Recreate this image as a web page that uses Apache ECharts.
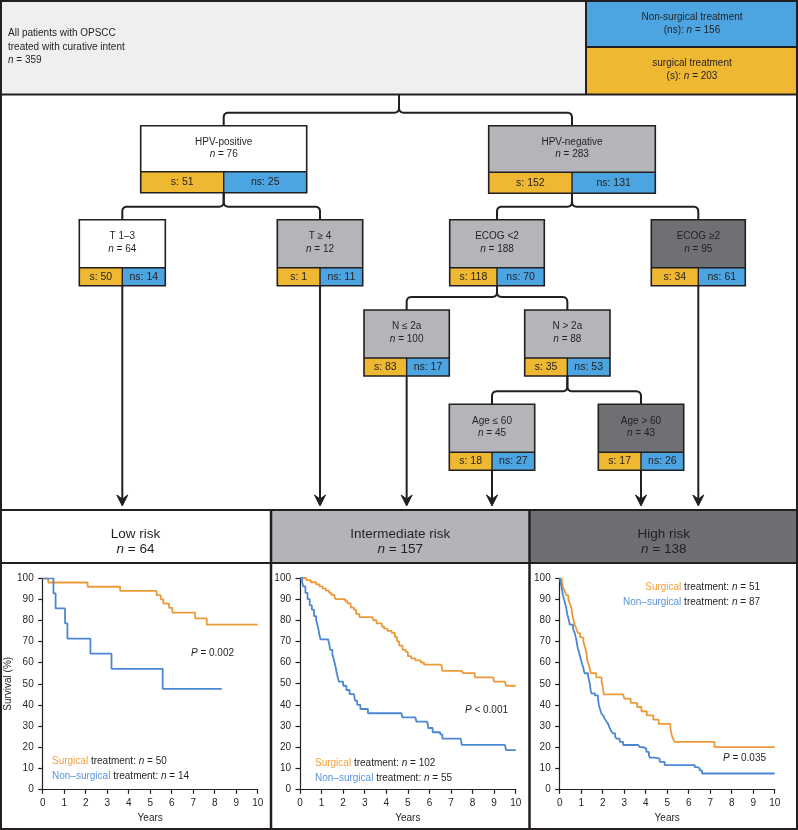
<!DOCTYPE html>
<html><head><meta charset="utf-8">
<script src="https://cdn.jsdelivr.net/npm/echarts@6/dist/echarts.min.js"></script>
<style>html,body{margin:0;padding:0;background:#fff}#c{width:798px;height:830px}</style>
</head><body><div id="c"></div>
<script>
// ---------------- DATA ----------------
const totalN = 359, totalNS = 156, totalS = 203;
const headerLines = ['All patients with OPSCC', 'treated with curative intent'];
const nodeIds    = ['hpvp','hpvn','t13','t4','ecogLow','ecogHigh','nLow','nHigh','ageLow','ageHigh'];
const nodeLabels = ['HPV-positive','HPV-negative','T 1–3','T ≥ 4','ECOG <2','ECOG ≥2','N ≤ 2a','N > 2a','Age ≤ 60','Age > 60'];
const nodeN      = [76, 283, 64, 12, 188, 95, 100, 88, 45, 43];
const nodeS      = [51, 152, 50, 1, 118, 34, 83, 35, 18, 17];
const nodeNS     = [25, 131, 14, 11, 70, 61, 17, 53, 27, 26];
const nodeTone   = ['white','gray','white','gray','gray','dark','gray','gray','gray','dark'];
const branches   = [['root',['hpvp','hpvn']],['hpvp',['t13','t4']],['hpvn',['ecogLow','ecogHigh']],['ecogLow',['nLow','nHigh']],['nHigh',['ageLow','ageHigh']]];
const leaves     = ['t13','t4','nLow','ageLow','ageHigh','ecogHigh'];

const riskNames  = ['Low risk','Intermediate risk','High risk'];
const riskN      = [64, 157, 138];
const surgN      = [50, 102, 51];
const nonSurgN   = [14, 55, 87];
const pTexts     = ['= 0.002', '< 0.001', '= 0.035'];
const yearTicks  = [0,1,2,3,4,5,6,7,8,9,10];

const lowSurgical = [[0,100],[0.26,98],[2.09,96],[3.6,94],[5.3,92],[5.49,90],[5.61,88],[5.88,86],[6.03,83.7],[7.09,81],[7.63,78],[10,78]];
const lowNonSurgical = [[0,100],[0.5,92.9],[0.6,85.7],[1.04,78.6],[1.15,71.4],[2.22,64.3],[3.2,57.1],[5.58,47.6],[8.33,47.6]];
const intSurgical = [[0,100],[0.3,99],[0.5,98],[0.75,97],[0.9,96],[1.05,95],[1.2,94],[1.35,93],[1.45,92],[1.6,91],[1.65,90],[2.0,90],[2.1,89],[2.2,88],[2.35,86],[2.5,85],[2.6,83],[2.75,81.5],[3.35,81.5],[3.4,80],[3.55,78.5],[3.8,77],[3.9,76],[4.05,75],[4.25,74],[4.4,72],[4.5,70],[4.6,68],[4.75,66],[4.9,65],[5.0,63],[5.15,62],[5.35,61],[5.6,60],[5.75,59],[6.55,59],[6.6,56],[7.5,56],[7.55,55],[8.0,55],[8.1,53],[8.95,53],[9.0,51],[9.5,51],[9.55,49],[10,49]];
const intNonSurgical = [[0,100],[0.1,98],[0.15,96],[0.25,93],[0.35,90],[0.45,87],[0.55,85],[0.65,82],[0.75,80],[0.8,78],[0.85,76],[0.9,73],[0.95,71],[1.3,71],[1.35,69],[1.4,66],[1.5,64],[1.55,62],[1.6,60],[1.65,58],[1.7,55],[1.75,53],[1.8,51],[2.0,49],[2.15,47],[2.3,45],[2.5,45],[2.55,42],[2.65,40],[2.8,38],[3.15,36],[4.7,36],[4.75,34],[5.35,34],[5.4,32],[5.9,32],[5.95,29],[6.15,27],[6.5,26],[6.6,24],[7.45,24],[7.5,21],[9.5,21],[9.55,18.5],[10,18.5]];
const highSurgical = [[0,100],[0.1,98],[0.15,96],[0.23,94],[0.3,92],[0.4,90],[0.47,88],[0.54,86],[0.6,82],[0.65,80],[0.7,78],[0.78,76],[0.85,74],[0.95,72],[1.1,70],[1.16,68],[1.24,65],[1.28,61],[1.35,59],[1.4,57],[1.45,55],[1.7,53],[1.95,51],[2.0,49],[2.05,45],[2.95,45],[3.0,43],[3.3,41],[3.6,39],[3.8,37],[4.05,35],[4.35,33],[4.6,31],[5.15,29],[5.2,26],[5.27,24],[5.35,22.5],[7.2,20],[10,20]];
const highNonSurgical = [[0,100],[0.05,98],[0.08,96],[0.12,94],[0.15,92],[0.2,90],[0.23,89],[0.28,87],[0.31,85.5],[0.35,83],[0.39,81.5],[0.43,80],[0.47,78],[0.62,76],[0.7,74],[0.75,72],[0.78,70.5],[0.82,68],[0.85,66.5],[0.9,65],[0.93,63.5],[1.0,61],[1.05,59],[1.09,58],[1.13,56],[1.16,55],[1.32,53.5],[1.36,52],[1.4,50],[1.44,47],[1.47,45.5],[1.63,44.5],[1.78,43],[1.82,40],[1.86,38.5],[1.94,36],[2.02,35],[2.09,33.5],[2.18,32],[2.25,31],[2.33,29],[2.4,27.5],[2.48,26.5],[2.58,25],[2.64,24],[2.79,22.5],[2.95,21],[3.65,21],[3.72,20],[3.88,19.3],[4.03,17.7],[4.15,16],[4.2,15],[4.42,14.5],[4.65,13],[4.88,11.5],[6.12,11.5],[6.28,10.5],[6.4,10],[6.51,9],[6.62,7.5],[10,7.5]];
const surgicalCurves = [lowSurgical, intSurgical, highSurgical];
const nonSurgicalCurves = [lowNonSurgical, intNonSurgical, highNonSurgical];

// ---------------- LAYOUT / STYLE ----------------
const FONT = '"Liberation Sans", Arial, Helvetica, sans-serif';
const INK = '#231f20';
const C = { white:'#ffffff', gray:'#b4b5b8', dark:'#6f7073', light:'#efeff0', yellow:'#efb833', blue:'#4ca5e0', orange:'#ec9a38', curveBlue:'#4b87d2', orangeText:'#f0a03c', blueText:'#5a94dc' };
const boxLayout = {
  hpvp:[140.7,125.7,166,67,21], hpvn:[488.7,125.7,166.6,67.5,21],
  t13:[79.3,219.7,86,66,18], t4:[277.3,219.7,85.4,66,18],
  ecogLow:[449.7,219.7,94.6,66,18], ecogHigh:[651.3,219.7,94,66,18],
  nLow:[364,310,85.3,66,18], nHigh:[524.7,310,85.3,66,18],
  ageLow:[449.3,404.3,85.4,66,18], ageHigh:[598.3,404.3,85.4,66,18]
};
const headerH = 94.5, rootX = 399, arrowEndY = 506;
const panelX = [0, 271, 529.5, 798];
const panelTop = 510, panelHeadBottom = 563, bottomY = 829;
const grids = [
  {left:42.7, top:578.3, width:215, height:211},
  {left:300, top:578, width:215.7, height:211.3},
  {left:559.7, top:578.3, width:215, height:211}
];
const legendPos = [{x:52, y:761, align:'left'},{x:315, y:763, align:'left'},{x:760, y:587, align:'right'}];
const pPos = [{x:212.5, y:653},{x:486.5, y:710},{x:744.5, y:758}];

// ---------------- BUILD ----------------
const g = [];
function txt(x, y, text, opts) {
  opts = opts || {};
  const fs = opts.fontSize || 10;
  g.push({type:'text', x:x, y:y, z:20, silent:true, style:Object.assign({
    text:text, fill:INK, fontSize:fs, fontFamily:FONT, align:'center', verticalAlign:'middle',
    rich:{ it:{fontStyle:'italic', fontSize:fs, fontFamily:FONT, fill:INK},
           nr:{fontSize:fs, fontFamily:FONT, fill:INK},
           o:{fontSize:fs, fontFamily:FONT, fill:C.orangeText},
           b:{fontSize:fs, fontFamily:FONT, fill:C.blueText} }
  }, opts)});
}
function rect(x, y, w, h, fill, stroke, lw, z) {
  g.push({type:'rect', z:z||5, silent:true, shape:{x:x, y:y, width:w, height:h},
    style:{fill:fill||'none', stroke:stroke||null, lineWidth:lw||0}});
}
function line(x1, y1, x2, y2, lw, z) {
  g.push({type:'line', z:z||12, silent:true, shape:{x1:x1, y1:y1, x2:x2, y2:y2}, style:{stroke:INK, lineWidth:lw||2}});
}
function quad(pts, p0, p1, p2) {
  for (let k = 1; k <= 6; k++) {
    const t = k / 6, u = 1 - t;
    pts.push([u*u*p0[0] + 2*u*t*p1[0] + t*t*p2[0], u*u*p0[1] + 2*u*t*p1[1] + t*t*p2[1]]);
  }
}

// header
rect(0, 0, 586, headerH, C.light);
rect(586, 0, 212, 47, C.blue);
rect(586, 47, 212, headerH - 47, C.yellow);
rect(1, 1, 796, headerH - 1, null, INK, 2, 12);
line(586, 0, 586, headerH);
line(586, 47, 798, 47);
txt(8, 33.5, headerLines[0], {align:'left'});
txt(8, 47, headerLines[1], {align:'left'});
txt(8, 60.5, '{it|n}{nr| = ' + totalN + '}', {align:'left'});
txt(692, 17, 'Non-surgical treatment');
txt(692, 30, '{nr|(ns): }{it|n}{nr| = ' + totalNS + '}');
txt(692, 63, 'surgical treatment');
txt(692, 76, '{nr|(s): }{it|n}{nr| = ' + totalS + '}');

// tree side borders
line(1, headerH, 1, panelTop);
line(797, headerH, 797, panelTop);

// tree nodes
const toneFill = {white:C.white, gray:C.gray, dark:C.dark};
nodeIds.forEach(function(id, i) {
  const b = boxLayout[id];
  const x = b[0], y = b[1], w = b[2], h = b[3], sh = b[4];
  rect(x, y, w, h - sh, toneFill[nodeTone[i]]);
  rect(x, y + h - sh, w / 2, sh, C.yellow);
  rect(x + w / 2, y + h - sh, w / 2, sh, C.blue);
  rect(x, y, w, h, null, INK, 1.6, 13);
  line(x, y + h - sh, x + w, y + h - sh, 1.4, 13);
  line(x + w / 2, y + h - sh, x + w / 2, y + h, 1.4, 13);
  const big = w > 120;
  txt(x + w / 2, y + (big ? 17 : 16.7), nodeLabels[i]);
  txt(x + w / 2, y + (big ? 29 : 29.3), '{it|n}{nr| = ' + nodeN[i] + '}');
  txt(x + w / 4, y + h - sh / 2, 's: ' + nodeS[i], {fontSize:10.5});
  txt(x + 3 * w / 4, y + h - sh / 2, 'ns: ' + nodeNS[i], {fontSize:10.5});
});

// braces
function anchorBottom(id) {
  if (id === 'root') return [rootX, headerH];
  const b = boxLayout[id];
  return [b[0] + b[2] / 2, b[1] + b[3]];
}
branches.forEach(function(br) {
  const p = anchorBottom(br[0]);
  const cx = p[0], py = p[1];
  const r = 5;
  br[1].forEach(function(cid) {
    const b = boxLayout[cid];
    const x = b[0] + b[2] / 2, top = b[1];
    const by = top - 13;
    const dir = x < cx ? 1 : -1;
    const pts = [[x, top], [x, by + r]];
    quad(pts, [x, by + r], [x, by], [x + dir * r, by]);
    pts.push([cx - dir * r, by]);
    quad(pts, [cx - dir * r, by], [cx, by], [cx, by - r]);
    pts.push([cx, py]);
    g.push({type:'polyline', z:11, silent:true, shape:{points:pts}, style:{stroke:INK, lineWidth:2, fill:null, lineJoin:'round'}});
  });
});

// arrows from leaves
leaves.forEach(function(id) {
  const p = anchorBottom(id);
  line(p[0], p[1], p[0], arrowEndY - 4, 2, 11);
  g.push({type:'polygon', z:11, silent:true, shape:{points:[[p[0] - 5.5, arrowEndY - 11],[p[0], arrowEndY],[p[0] + 5.5, arrowEndY - 11],[p[0], arrowEndY - 7]]},
    style:{fill:INK, stroke:INK, lineWidth:1}});
});

// bottom panels
const headFills = [C.white, '#b3b4b7', '#6e6f72'];
for (let i = 0; i < 3; i++) {
  rect(panelX[i], panelTop, panelX[i + 1] - panelX[i], panelHeadBottom - panelTop, headFills[i]);
  const cx = (panelX[i] + panelX[i + 1]) / 2;
  txt(cx, 534, riskNames[i], {fontSize:13.5});
  txt(cx, 549.5, '{it|n}{nr| = ' + riskN[i] + '}', {fontSize:13.5});
  const lp = legendPos[i];
  txt(lp.x, lp.y, '{o|Surgical}{nr| treatment: }{it|n}{nr| = ' + surgN[i] + '}', {align:lp.align});
  txt(lp.x, lp.y + 15.5, '{b|Non–surgical}{nr| treatment: }{it|n}{nr| = ' + nonSurgN[i] + '}', {align:lp.align});
  txt(pPos[i].x, pPos[i].y, '{it|P}{nr| ' + pTexts[i] + '}');
}
rect(1, panelTop, 796, bottomY - panelTop, null, INK, 2, 12);
line(0, panelHeadBottom, 798, panelHeadBottom, 2);
line(panelX[1], panelTop, panelX[1], bottomY, 2.5);
line(panelX[2], panelTop, panelX[2], bottomY, 2.5);

// axes & series
const axisCommon = {
  type:'value', axisLine:{show:true, lineStyle:{color:INK, width:1.2}},
  axisTick:{show:true, inside:false, length:4.5, lineStyle:{color:INK, width:1.2}},
  splitLine:{show:false},
  axisLabel:{color:INK, fontSize:10, fontFamily:FONT, margin:9},
  nameTextStyle:{color:INK, fontSize:10, fontFamily:FONT}
};
const xAxes = [], yAxes = [], series = [];
for (let i = 0; i < 3; i++) {
  xAxes.push(Object.assign({}, axisCommon, {gridIndex:i, min:yearTicks[0], max:yearTicks[yearTicks.length - 1], interval:1,
    name:'Years', nameLocation:'middle', nameGap:24}));
  yAxes.push(Object.assign({}, axisCommon, {gridIndex:i, min:0, max:100, interval:10,
    name: i === 0 ? 'Survival (%)' : '', nameLocation:'middle', nameGap:25}));
  series.push({type:'line', xAxisIndex:i, yAxisIndex:i, data:surgicalCurves[i], step:'end', showSymbol:false, silent:true,
    lineStyle:{color:C.orange, width:1.8}, z:4});
  series.push({type:'line', xAxisIndex:i, yAxisIndex:i, data:nonSurgicalCurves[i], step:'end', showSymbol:false, silent:true,
    lineStyle:{color:C.curveBlue, width:1.8}, z:4});
}

const chart = echarts.init(document.getElementById('c'), null, {renderer:'canvas', width:798, height:830});
chart.setOption({
  animation:false,
  backgroundColor:'#ffffff',
  grid:grids,
  xAxis:xAxes,
  yAxis:yAxes,
  series:series,
  graphic:{elements:g}
});
</script>
</body></html>
